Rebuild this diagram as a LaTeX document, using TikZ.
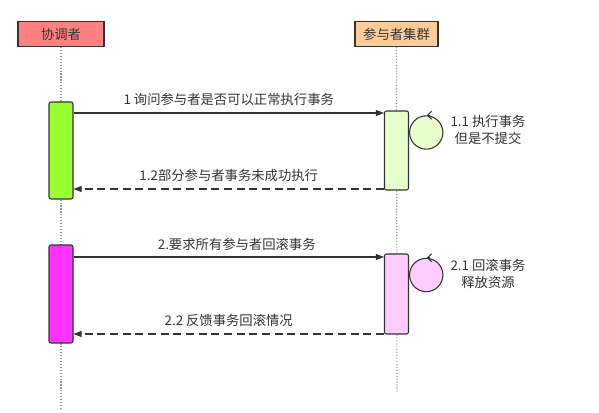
\documentclass[tikz,border=0pt]{standalone}
\usepackage{fontspec}
\setmainfont{Noto Sans CJK SC}
\usetikzlibrary{arrows.meta,calc,positioning}
\definecolor{ink}{HTML}{333333}
\definecolor{hdrA}{HTML}{FF8080}
\definecolor{hdrB}{HTML}{FFCC99}
\definecolor{lime}{HTML}{99FF33}
\definecolor{palegreen}{HTML}{E6FFCC}
\definecolor{magenta}{HTML}{FF33FF}
\definecolor{palepink}{HTML}{FFCCFF}

\begin{document}
\begin{tikzpicture}[x=0.75pt, y=-0.75pt,
  font=\fontsize{10}{13}\selectfont, text=ink,
  header/.style={rectangle, draw=ink, line width=0.9pt,
    minimum height=18.75pt, inner sep=0pt},
  act/.style={rectangle, draw=ink, line width=0.8pt, rounded corners=1.5pt,
    minimum width=18pt, inner sep=0pt},
  selfloop/.style={circle, draw=ink, line width=0.8pt, minimum size=25pt, inner sep=0pt},
  life/.style={gray!80, line width=0.8pt, dash pattern=on 0.9pt off 1.3pt},
  msg/.style={-{Triangle[length=6pt,width=4.5pt]}, ink, line width=0.8pt},
  reply/.style={msg, dash pattern=on 6pt off 3.5pt},
  looptip/.style={-{Straight Barb[length=3pt,width=6pt]}, ink, line width=0.8pt},
]
\useasboundingbox (0,0) rectangle (599,413);

% participants
\node[header, fill=hdrA, minimum width=64.5pt] (coord) at (61,34) {协调者};
\node[header, fill=hdrB, minimum width=62.25pt] (group) at (396.5,34) {参与者集群};

% lifelines
\coordinate (coordEnd) at (61,410);
\coordinate (groupEnd) at (397,392);
\draw[life] (coord.south) -- (coordEnd);
\draw[life] (group.south) -- (groupEnd);

% phase 1
\node[act, fill=lime, minimum height=72.75pt] (ga) at (61,150.5) {};
\node[act, fill=palegreen, minimum height=59.25pt] (gb) at (396.5,150.5) {};
\node[selfloop, fill=palegreen, right=0pt of gb.east, yshift=13.5pt] (loopA) {};
\draw[looptip] ([xshift=3pt]loopA.north) -- ([xshift=0.5pt]loopA.north);
\node[align=center] (noteA) at (488,130) {1.1 执行事务\\但是不提交};

\draw[msg] (ga.east |- 0,113) -- node[above=2pt]{1 询问参与者是否可以正常执行事务} (gb.west |- 0,113);
\draw[reply] (gb.west |- 0,189) -- node[above=2pt]{1.2部分参与者事务未成功执行} (ga.east |- 0,189);

% phase 2
\node[act, fill=magenta, minimum height=73.5pt] (pa) at (61,294) {};
\node[act, fill=palepink, minimum height=60pt] (pb) at (396.5,294) {};
\node[selfloop, fill=palepink, right=0pt of pb.east, yshift=14.25pt] (loopB) {};
\draw[looptip] ([xshift=3pt]loopB.north) -- ([xshift=0.5pt]loopB.north);
\node[align=center] (noteB) at (488,274) {2.1 回滚事务\\释放资源};

\draw[msg] (pa.east |- 0,257) -- node[above=1pt, xshift=6pt]{2.要求所有参与者回滚事务} (pb.west |- 0,257);
\draw[reply] (pb.west |- 0,334) -- node[above=2pt]{2.2 反馈事务回滚情况} (pa.east |- 0,334);
\end{tikzpicture}
\end{document}
